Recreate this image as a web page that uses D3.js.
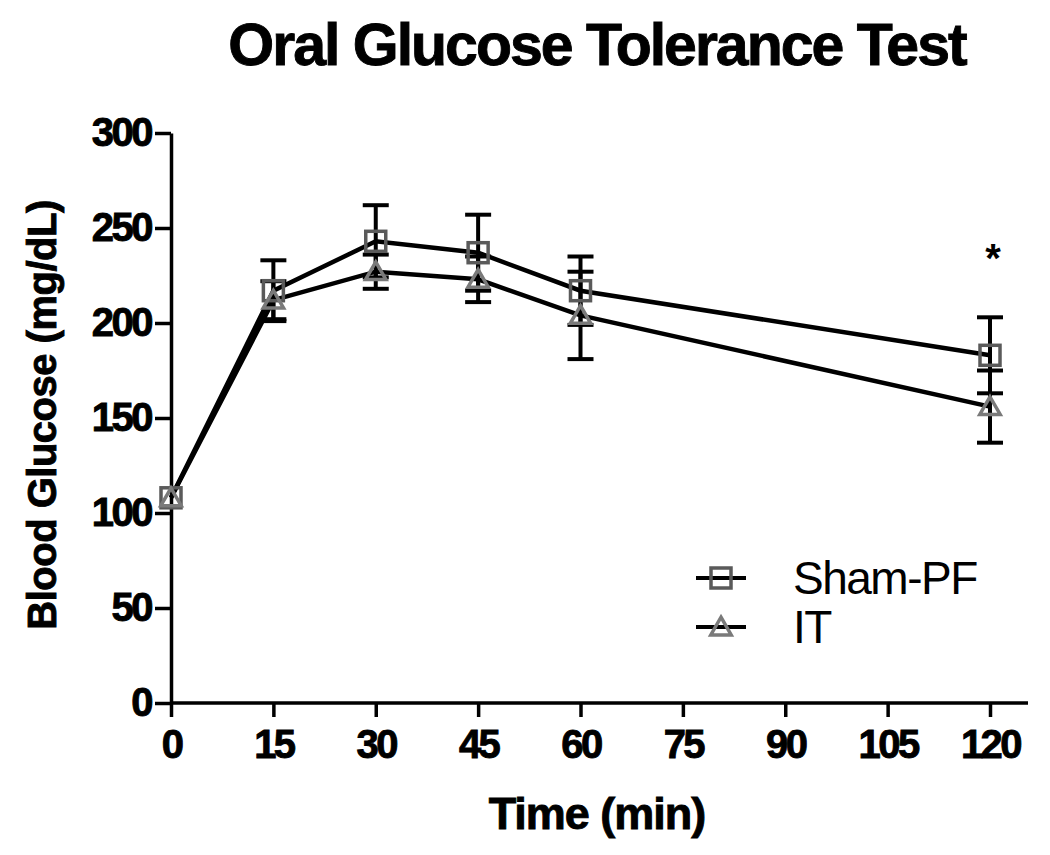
<!DOCTYPE html>
<html><head><meta charset="utf-8">
<script src="https://cdn.jsdelivr.net/npm/d3@7"></script>
<style>body{margin:0;background:#fff}svg{display:block}text{font-family:"Liberation Sans",Arial,sans-serif}</style>
</head><body>
<script>
const times = [0, 15, 30, 45, 60, 120];
const shamMean = [108, 217, 243, 237, 217, 183];
const shamSEM  = [4, 16, 19, 20, 18, 20];
const itMean   = [108, 212, 227, 223, 204, 156];
const itSEM    = [4, 10, 9, 12, 23, 19];
const xTicks = [0, 15, 30, 45, 60, 75, 90, 105, 120];
const yTicks = [0, 50, 100, 150, 200, 250, 300];
const seriesNames = ["Sham-PF", "IT"];

const W = 1050, H = 855;
const svg = d3.select("body").append("svg").attr("width", W).attr("height", H);
const x = d3.scaleLinear().domain([0, 120]).range([171, 990]);
const y = d3.scaleLinear().domain([0, 300]).range([703, 133]);

const heavy = sel => sel.attr("font-weight", "bold").attr("stroke", "#000").attr("stroke-width", 0.9).attr("fill", "#000");

// title
svg.append("text").attr("x", 597).attr("y", 65).attr("text-anchor", "middle")
  .attr("font-size", 59).attr("letter-spacing", -2).call(heavy)
  .text("Oral Glucose Tolerance Test");

// axes
const yAxis = d3.axisLeft(y).tickValues(yTicks).tickSize(16).tickPadding(4).tickSizeOuter(0);
const gy = svg.append("g").attr("transform", "translate(171,0)").call(yAxis);
gy.select(".domain").attr("stroke-width", 3.5).attr("stroke", "#000");
gy.selectAll(".tick line").attr("stroke-width", 3.5);
gy.selectAll(".tick text").attr("font-size", 40).attr("letter-spacing", -2.5)
  .attr("font-family", "Liberation Sans, Arial, sans-serif").call(heavy);

const xAxis = d3.axisBottom(x).tickValues(xTicks).tickSize(14).tickPadding(13).tickSizeOuter(0);
const gx = svg.append("g").attr("transform", "translate(0,703)").call(xAxis);
gx.select(".domain").attr("d", `M${x(0)},0H1028`).attr("stroke-width", 3.5).attr("stroke", "#000");
gx.selectAll(".tick line").attr("stroke-width", 3.5);
gx.selectAll(".tick text").attr("font-size", 40).attr("letter-spacing", -2.5)
  .attr("font-family", "Liberation Sans, Arial, sans-serif").call(heavy);

svg.append("text").attr("x", 597).attr("y", 829).attr("text-anchor", "middle")
  .attr("font-size", 45).attr("letter-spacing", -1).call(heavy)
  .text("Time (min)");
svg.append("text").attr("transform", "translate(56,415) rotate(-90)").attr("text-anchor", "middle")
  .attr("font-size", 40).attr("letter-spacing", -0.5).call(heavy)
  .text("Blood Glucose (mg/dL)");

const series = [
  {name: seriesNames[0], mean: shamMean, sem: shamSEM, shape: "square"},
  {name: seriesNames[1], mean: itMean, sem: itSEM, shape: "triangle"}
];
const line = d3.line().x((d, i) => x(times[i])).y(d => y(d));
const capW = 13;

function drawErr(s) {
  const g = svg.append("g").attr("stroke", "#000").attr("stroke-width", 4);
  times.forEach((t, i) => {
    if (t === 0) return;
    const hi = y(s.mean[i] + s.sem[i]), lo = y(s.mean[i] - s.sem[i]);
    g.append("line").attr("x1", x(t)).attr("x2", x(t)).attr("y1", hi).attr("y2", lo);
    g.append("line").attr("x1", x(t) - capW).attr("x2", x(t) + capW).attr("y1", hi).attr("y2", hi);
    g.append("line").attr("x1", x(t) - capW).attr("x2", x(t) + capW).attr("y1", lo).attr("y2", lo);
  });
}
series.forEach(drawErr);
series.forEach(s => {
  svg.append("path").datum(s.mean).attr("d", line).attr("fill", "none")
    .attr("stroke", "#000").attr("stroke-width", 4.5);
});
function marker(g, shape, cx, cy) {
  if (shape === "square") {
    g.append("rect").attr("x", cx - 10).attr("y", cy - 10).attr("width", 20).attr("height", 20)
      .attr("fill", "none").attr("stroke", "#5a5a5a").attr("stroke-width", 3.5);
  } else {
    g.append("path").attr("d", d3.symbol(d3.symbolTriangle, 180)()).attr("transform", `translate(${cx},${cy + 2})`)
      .attr("fill", "none").attr("stroke", "#7a7a7a").attr("stroke-width", 3.5);
  }
}
series.forEach(s => {
  const g = svg.append("g");
  times.forEach((t, i) => marker(g, s.shape, x(t), y(s.mean[i])));
});

// significance
svg.append("text").attr("x", x(120) + 3).attr("y", 272).attr("text-anchor", "middle")
  .attr("font-size", 40).attr("font-weight", "bold").text("*");

// legend
const lg = svg.append("g");
series.forEach((s, i) => {
  const cy = 578 + i * 49;
  lg.append("line").attr("x1", 696).attr("x2", 746).attr("y1", cy).attr("y2", cy)
    .attr("stroke", "#000").attr("stroke-width", 4);
  marker(lg, s.shape, 721, cy);
  lg.append("text").attr("x", 793).attr("y", cy + 16).attr("font-size", 46)
    .attr("letter-spacing", -1.5).text(s.name);
});
</script>
</body></html>
